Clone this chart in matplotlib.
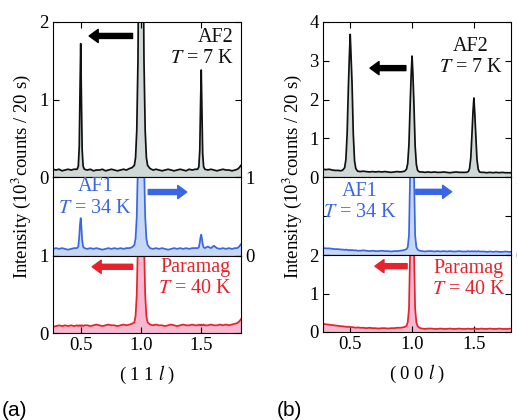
import matplotlib.pyplot as plt
import numpy as np

# ---- (1 1 l) scans ----
l_111 = [0.27, 0.295, 0.32, 0.345, 0.37, 0.395, 0.42, 0.445,
         0.47, 0.48, 0.488, 0.494, 0.5, 0.506, 0.512, 0.52, 0.53,
         0.555, 0.58, 0.605, 0.63, 0.655, 0.68, 0.705, 0.73, 0.755, 0.78, 0.805, 0.83, 0.855, 0.88, 0.905, 0.925,
         0.945, 0.955, 0.965, 0.975, 0.982, 0.99, 1.0, 1.01, 1.018, 1.025, 1.035, 1.045, 1.055,
         1.075, 1.1, 1.125, 1.15, 1.175, 1.2, 1.225, 1.25, 1.275, 1.3, 1.325, 1.35, 1.375, 1.4, 1.425, 1.45,
         1.47, 1.48, 1.488, 1.494, 1.5, 1.506, 1.512, 1.52, 1.53,
         1.555, 1.58, 1.605, 1.63, 1.655, 1.68, 1.705, 1.73, 1.755, 1.78, 1.8, 1.815, 1.83]

af2_111 = [0.10, 0.09, 0.10, 0.08, 0.09, 0.10, 0.09, 0.10,
           0.10, 0.14, 0.40, 1.10, 1.72, 1.00, 0.35, 0.14, 0.10,
           0.09, 0.10, 0.08, 0.09, 0.09, 0.10, 0.08, 0.09, 0.10, 0.09, 0.08, 0.09, 0.10, 0.09, 0.11, 0.12,
           0.15, 0.25, 0.60, 1.50, 3.00, 8.00, 20.0, 8.00, 3.00, 1.50, 0.60, 0.25, 0.15,
           0.11, 0.09, 0.10, 0.09, 0.08, 0.09, 0.10, 0.09, 0.08, 0.09, 0.10, 0.09, 0.08, 0.10, 0.09, 0.10,
           0.10, 0.13, 0.35, 0.90, 1.38, 0.85, 0.30, 0.13, 0.10,
           0.09, 0.10, 0.09, 0.08, 0.09, 0.10, 0.09, 0.09, 0.08, 0.09, 0.10, 0.12, 0.15]

af1_111 = [0.09, 0.10, 0.09, 0.10, 0.09, 0.08, 0.09, 0.10,
           0.10, 0.12, 0.25, 0.40, 0.48, 0.36, 0.20, 0.12, 0.10,
           0.09, 0.10, 0.09, 0.10, 0.09, 0.08, 0.09, 0.10, 0.09, 0.10, 0.09, 0.10, 0.09, 0.10, 0.10, 0.11,
           0.14, 0.22, 0.50, 1.20, 2.50, 6.00, 15.0, 6.00, 2.50, 1.20, 0.50, 0.22, 0.14,
           0.10, 0.09, 0.10, 0.09, 0.10, 0.09, 0.08, 0.09, 0.10, 0.09, 0.10, 0.09, 0.10, 0.09, 0.10, 0.10,
           0.10, 0.11, 0.17, 0.24, 0.27, 0.22, 0.15, 0.11, 0.10,
           0.12, 0.10, 0.13, 0.10, 0.09, 0.10, 0.09, 0.10, 0.09, 0.10, 0.10, 0.12, 0.15]

para_111 = [0.08, 0.09, 0.10, 0.09, 0.10, 0.09, 0.10, 0.09,
            0.10, 0.09, 0.10, 0.10, 0.09, 0.10, 0.10, 0.09, 0.10,
            0.10, 0.09, 0.10, 0.11, 0.10, 0.09, 0.10, 0.11, 0.10, 0.10, 0.09, 0.10, 0.11, 0.10, 0.11, 0.12,
            0.14, 0.22, 0.50, 1.20, 2.50, 6.00, 15.0, 6.00, 2.50, 1.20, 0.50, 0.22, 0.14,
            0.11, 0.10, 0.11, 0.10, 0.10, 0.09, 0.10, 0.11, 0.10, 0.09, 0.10, 0.11, 0.10, 0.10, 0.11, 0.10,
            0.10, 0.11, 0.10, 0.10, 0.11, 0.10, 0.10, 0.11, 0.10,
            0.10, 0.11, 0.10, 0.10, 0.11, 0.10, 0.11, 0.10, 0.11, 0.12, 0.13, 0.15, 0.18]

# ---- (0 0 l) scans ----
l_001 = [0.28, 0.305, 0.33, 0.355, 0.38, 0.405, 0.425,
         0.44, 0.455, 0.465, 0.475, 0.485, 0.493, 0.5, 0.507, 0.515, 0.525, 0.535, 0.545, 0.56,
         0.58, 0.605, 0.63, 0.655, 0.68, 0.705, 0.73, 0.755, 0.78, 0.805, 0.83, 0.855, 0.88, 0.905, 0.925,
         0.94, 0.955, 0.965, 0.975, 0.985, 0.993, 1.0, 1.007, 1.015, 1.025, 1.035, 1.045, 1.06,
         1.08, 1.105, 1.13, 1.155, 1.18, 1.205, 1.23, 1.255, 1.28, 1.305, 1.33, 1.355, 1.38, 1.405, 1.425,
         1.44, 1.455, 1.465, 1.475, 1.485, 1.493, 1.5, 1.507, 1.515, 1.525, 1.535, 1.545, 1.56,
         1.58, 1.605, 1.63, 1.655, 1.68, 1.705, 1.73, 1.755, 1.78, 1.8]

af2_001 = [0.20, 0.19, 0.20, 0.18, 0.17, 0.17, 0.16,
           0.18, 0.24, 0.45, 1.10, 2.30, 3.10, 3.68, 3.10, 2.40, 1.10, 0.42, 0.22, 0.15,
           0.14, 0.15, 0.14, 0.13, 0.14, 0.13, 0.14, 0.13, 0.14, 0.13, 0.12, 0.13, 0.14, 0.13, 0.14,
           0.15, 0.20, 0.35, 0.85, 1.90, 2.65, 3.12, 2.65, 1.90, 0.80, 0.32, 0.17, 0.13,
           0.13, 0.12, 0.13, 0.12, 0.13, 0.12, 0.12, 0.13, 0.12, 0.11, 0.12, 0.13, 0.12, 0.12, 0.12,
           0.12, 0.14, 0.22, 0.50, 1.15, 1.70, 2.04, 1.65, 1.10, 0.45, 0.20, 0.13, 0.12,
           0.12, 0.11, 0.12, 0.11, 0.12, 0.11, 0.12, 0.11, 0.11, 0.11]

af1_001 = [0.18, 0.17, 0.17, 0.16, 0.15, 0.15, 0.14,
           0.14, 0.13, 0.14, 0.13, 0.13, 0.12, 0.13, 0.12, 0.13, 0.12, 0.12, 0.12, 0.11,
           0.11, 0.12, 0.11, 0.10, 0.11, 0.10, 0.10, 0.11, 0.10, 0.10, 0.09, 0.10, 0.10, 0.11, 0.12,
           0.13, 0.15, 0.20, 0.50, 2.20, 5.00, 12.0, 5.00, 2.20, 0.50, 0.20, 0.14, 0.11,
           0.10, 0.09, 0.10, 0.10, 0.09, 0.10, 0.09, 0.10, 0.09, 0.10, 0.09, 0.09, 0.10, 0.09, 0.09,
           0.09, 0.10, 0.09, 0.09, 0.10, 0.09, 0.09, 0.10, 0.09, 0.09, 0.10, 0.09, 0.09,
           0.09, 0.08, 0.09, 0.08, 0.09, 0.08, 0.08, 0.09, 0.08, 0.08]

para_001 = [0.21, 0.20, 0.19, 0.18, 0.17, 0.16, 0.15,
            0.15, 0.14, 0.14, 0.13, 0.14, 0.13, 0.13, 0.12, 0.13, 0.12, 0.12, 0.11, 0.12,
            0.11, 0.11, 0.10, 0.11, 0.10, 0.10, 0.09, 0.10, 0.10, 0.09, 0.10, 0.10, 0.11, 0.11, 0.12,
            0.13, 0.16, 0.25, 0.60, 2.20, 6.00, 14.0, 6.00, 2.20, 0.60, 0.25, 0.15, 0.11,
            0.09, 0.08, 0.09, 0.09, 0.08, 0.08, 0.09, 0.08, 0.08, 0.09, 0.08, 0.08, 0.09, 0.08, 0.08,
            0.08, 0.09, 0.08, 0.08, 0.08, 0.09, 0.08, 0.08, 0.09, 0.08, 0.08, 0.08, 0.09,
            0.08, 0.08, 0.09, 0.08, 0.08, 0.09, 0.08, 0.08, 0.08, 0.09]

plt.rcParams['font.family'] = 'serif'
plt.rcParams['font.serif'] = ['Liberation Serif', 'DejaVu Serif']
plt.rcParams['mathtext.fontset'] = 'stix'

BLACK, GREY = '#111111', '#d0d8d8'
BLUE, LIGHTBLUE = '#3a66e6', '#c6d8f5'
RED, PINK = '#e8222a', '#f5b8d0'
FS_TICK = 13.5
FS_TEXT = 14.5

fig = plt.figure(figsize=(5.17, 4.2), dpi=100)


def trace(ax, l, counts, col, fill):
    ax.fill_between(l, 0, counts, color=fill, lw=0, zorder=1)
    ax.plot(l, counts, color=col, lw=1.25, zorder=2)


def arrow(ax, tail, head, y, col):
    ax.annotate('', xy=(head, y), xytext=(tail, y),
                arrowprops=dict(arrowstyle='simple,head_length=0.65,head_width=0.95,tail_width=0.36',
                                mutation_scale=10, color=col, shrinkA=0, shrinkB=0))


def style(ax, xlim, ylim, yticks, left_labels, right_labels, top=False, bottom=False):
    ax.set_xlim(*xlim)
    ax.set_ylim(*ylim)
    ax.set_yticks(yticks)
    ax.set_yticklabels([str(t) for t in yticks])
    ax.set_xticks([0.5, 1.0, 1.5])
    ax.set_xticklabels(['0.5', '1.0', '1.5'])
    ax.tick_params(direction='in', length=4, width=0.8, labelsize=FS_TICK, pad=3,
                   left=True, right=True, top=top, bottom=bottom,
                   labelleft=left_labels, labelright=right_labels,
                   labelbottom=bottom, labeltop=False)
    for s in ax.spines.values():
        s.set_linewidth(0.8)


def panel(x0, x1, rows, xlim, l, curves, ticks, arrows, texts, xlabel):
    axes = []
    for i, (y0, y1) in enumerate(rows):
        ax = fig.add_axes([x0, y0, x1 - x0, y1 - y0])
        counts, col, fill = curves[i]
        trace(ax, l, counts, col, fill)
        ylim, yt, ll, rl = ticks[i]
        style(ax, xlim, ylim, yt, ll, rl, top=(i == 0), bottom=(i == 2))
        tail, head, ya = arrows[i]
        arrow(ax, tail, head, ya, col if col != BLACK else 'black')
        tx, ty, s, ha = texts[i]
        ax.text(tx, ty, s, color=col, fontsize=FS_TEXT, ha=ha, va='center',
                multialignment=ha, linespacing=1.15, zorder=3)
        axes.append(ax)
    axes[2].set_xlabel(xlabel, fontsize=FS_TICK, labelpad=7)
    return axes


W, H = 517, 420
rows_a = [(1 - 177 / H, 1 - 22 / H), (1 - 256 / H, 1 - 177 / H), (1 - 333 / H, 1 - 256 / H)]
rows_b = [(1 - 177 / H, 1 - 22 / H), (1 - 255 / H, 1 - 177 / H), (1 - 332 / H, 1 - 255 / H)]

panel(53 / W, 241 / W, rows_a, (0.27, 1.83), l_111,
      [(af2_111, BLACK, GREY), (af1_111, BLUE, LIGHTBLUE), (para_111, RED, PINK)],
      [((0, 2), [0, 1, 2], True, False),
       ((0, 1), [0, 1], False, True),
       ((0, 1), [0, 1], True, False)],
      [(0.93, 0.57, 1.82), (1.06, 1.38, 0.81), (0.93, 0.595, 0.86)],
      [(1.77, 1.66, 'AF2\n$T$ = 7 K', 'right'),
       (0.62, 0.74, 'AF1\n$T$ = 34 K', 'center'),
       (1.45, 0.71, 'Paramag\n$T$ = 40 K', 'center')],
      '( 1 1 $l$ )')

panel(323 / W, 511 / W, rows_b, (0.28, 1.80), l_001,
      [(af2_001, BLACK, GREY), (af1_001, BLUE, LIGHTBLUE), (para_001, RED, PINK)],
      [((0, 4), [0, 1, 2, 3, 4], True, False),
       ((0, 2), [0, 1, 2], False, True),
       ((0, 2), [0, 1, 2], True, False)],
      [(0.95, 0.66, 2.81), (1.03, 1.32, 1.62), (0.96, 0.70, 1.71)],
      [(1.475, 3.10, 'AF2\n$T$ = 7 K', 'center'),
       (0.58, 1.35, 'AF1\n$T$ = 34 K', 'center'),
       (1.46, 1.38, 'Paramag\n$T$ = 40 K', 'center')],
      '( 0 0 $l$ )')

ylab = 'Intensity (10$^3$counts / 20 s)'
fig.text(21 / W, 1 - 177 / H, ylab, rotation=90, ha='center', va='center', fontsize=FS_TICK)
fig.text(292 / W, 1 - 177 / H, ylab, rotation=90, ha='center', va='center', fontsize=FS_TICK)

fig.text(2 / W, 1 - 410 / H, '(a)', family='Liberation Sans', fontsize=15, va='center')
fig.text(277 / W, 1 - 410 / H, '(b)', family='Liberation Sans', fontsize=15, va='center')

fig.savefig('out.png', dpi=100)
